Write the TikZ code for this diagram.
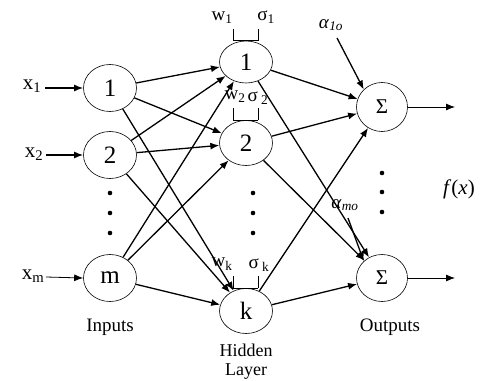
\documentclass[tikz,border=0pt]{standalone}
\usepackage{fontspec}
\setmainfont{Liberation Serif}
\usetikzlibrary{shapes.geometric,arrows.meta,calc}
\begin{document}
\begin{tikzpicture}[x=1pt,y=-1pt,
  neuron/.style={draw,ellipse,line width=0.6pt,inner sep=0pt,minimum width=53pt,minimum height=47pt,font=\fontsize{25}{27}\selectfont},
  hid/.style={neuron,minimum height=45pt},
  conn/.style={line width=1.3pt,-{Latex[length=9pt,width=7pt]}},
  inarrow/.style={line width=1.5pt,-{Latex[length=9pt,width=7pt]}},
  outarrow/.style={line width=0.8pt,-{Latex[length=9pt,width=7pt]}},
  lab/.style={font=\fontsize{19}{22}\selectfont,inner sep=0pt},
  xlab/.style={font=\fontsize{21}{24}\selectfont,inner sep=0pt},
  wlab/.style={font=\fontsize{19}{22}\selectfont,inner sep=0pt},
  tick/.style={line width=0.8pt},
  dot/.style={fill=black}]
\useasboundingbox (0,0) rectangle (481,380);
% input nodes
\node[neuron] (i1) at (110,88) {1};
\node[neuron] (i2) at (110,155) {2};
\node[neuron] (im) at (110,278) {m};
% hidden nodes
\node[hid,minimum height=42pt] (h1) at (246,62) {1};
\node[hid] (h2) at (246,143) {2};
\node[hid] (hk) at (246,311) {k};
% output nodes
\node[neuron,minimum width=51pt,minimum height=49pt,font=\fontsize{21}{23}\selectfont] (o1) at (382,107) {Σ};
\node[neuron,minimum width=51pt,minimum height=47pt,font=\fontsize{21}{23}\selectfont] (om) at (382,278) {Σ};
% input labels
\node[xlab] (x1) at (32,86) {x\textsubscript{1}};
\node[xlab] (x2) at (34,154) {x\textsubscript{2}};
\node[xlab] (xm) at (33,276) {x\textsubscript{m}};
\coordinate (x1e) at (45,88);
\coordinate (x2e) at (46,155);
\coordinate (xme) at (46,277);
\draw[inarrow] (x1e) -- (i1.west);
\draw[inarrow] (x2e) -- (i2.west);
\draw[outarrow] (xme) -- (im.west);
% input -> hidden
\foreach \a in {i1,i2,im}{
  \foreach \b in {h1,h2,hk}{
    \draw[conn] (\a) -- (\b);
  }
}
% hidden -> output
\foreach \a in {h1,h2,hk}{
  \foreach \b in {o1,om}{
    \draw[conn] (\a) -- (\b);
  }
}
% outputs
\coordinate (y1) at (455,107);
\coordinate (ym) at (455,278);
\draw[outarrow] (o1.east) -- (y1);
\draw[outarrow] (om.east) -- (ym);
% weight / sigma ticks
\foreach \n in {h1,h2,hk}{
  \draw[tick] ($(\n.north)+(-13,0)$) -- ++(0,-12);
  \draw[tick] ($(\n.north)+(12,0)$) -- ++(0,-12);
  \draw[tick] ($(\n.north)+(-13,0)$) -- ($(\n.north)+(12,0)$);
}
\node[wlab] (w1) at (222,18) {w\textsubscript{1}};
\node[wlab] (s1) at (266,17) {σ\textsubscript{1}};
\node[wlab] (w2) at (235,97) {w\textsubscript{2}};
\node[wlab] (s2) at (258,98) {σ\,\textsubscript{2}};
\node[wlab] (wk) at (222,264) {w\textsubscript{k}};
\node[wlab] (sk) at (259,265) {σ\,\textsubscript{k}};
% alpha labels
\node[lab] (a1) at (331,25) {\textit{α}\textsubscript{\textit{1o}}};
\node[lab] (am) at (345,205) {\textit{α}\textsubscript{\textit{mo}}};
\coordinate (a1s) at (337,38);
\coordinate (ams) at (348,218);
\draw[conn] (a1s) -- (o1.north west);
\draw[conn] (ams) -- (om.north west);
% f(x)
\node[lab,font=\fontsize{21}{24}\selectfont] (fx) at (459,189) {\textit{f}(\textit{x})};
% dots
\foreach \y in {193,213,233}{\fill[dot] (110,\y) circle (2.3);}
\foreach \y in {193,213,233}{\fill[dot] (253,\y) circle (2.3);}
\foreach \y in {173,192,212}{\fill[dot] (382,\y) circle (2.3);}
% captions
\node[lab] (inp) at (110,327) {Inputs};
\node[lab,align=center,font=\fontsize{18}{19}\selectfont,anchor=south] (hid) at (246,379.5) {Hidden\\Layer};
\node[lab] (outp) at (390,327) {Outputs};
\end{tikzpicture}
\end{document}
